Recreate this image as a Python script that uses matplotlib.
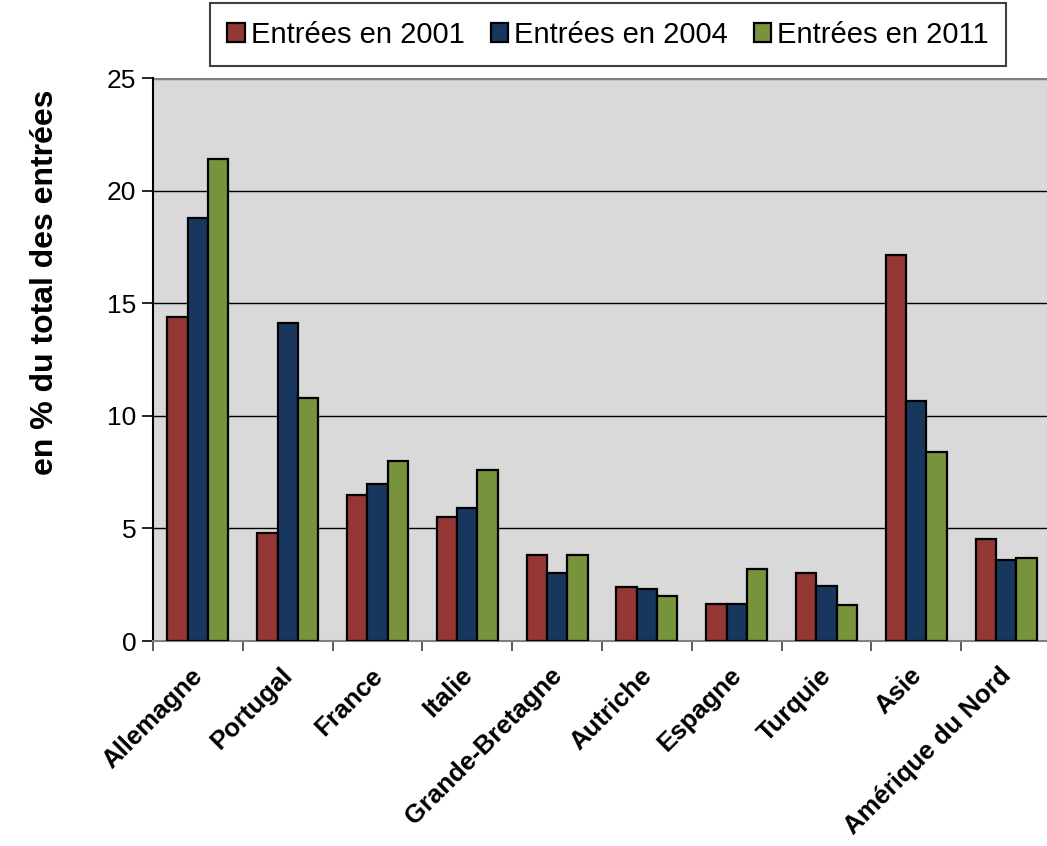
import numpy as np
import matplotlib
matplotlib.use("Agg")
import matplotlib.pyplot as plt

plt.rcParams['font.family'] = ['Liberation Sans', 'DejaVu Sans']

pays = ["Allemagne", "Portugal", "France", "Italie", "Grande-Bretagne",
        "Autriche", "Espagne", "Turquie", "Asie", "Amérique du Nord"]
entrees_2001 = [14.4, 4.8, 6.5, 5.5, 3.8, 2.4, 1.65, 3.0, 17.15, 4.55]
entrees_2004 = [18.8, 14.1, 6.95, 5.9, 3.0, 2.3, 1.65, 2.45, 10.65, 3.6]
entrees_2011 = [21.4, 10.8, 8.0, 7.6, 3.8, 2.0, 3.2, 1.6, 8.4, 3.7]
series_labels = ["Entrées en 2001", "Entrées en 2004", "Entrées en 2011"]
colors = ["#953735", "#17375E", "#77933C"]

fig = plt.figure(figsize=(10.47, 8.46), dpi=100)
ax = fig.add_axes([153 / 1047, 1 - 641 / 846, 898 / 1047, 563 / 846])
ax.set_facecolor("#D9D9D9")

x = np.arange(len(pays))
w = 0.226
for i, (vals, lab, col) in enumerate(zip([entrees_2001, entrees_2004, entrees_2011],
                                          series_labels, colors)):
    ax.bar(x + (i - 1) * w, vals, width=w, color=col, edgecolor="black",
           linewidth=1.6, label=lab, zorder=3)

ax.set_xlim(-0.5, len(pays) - 0.5)
ax.set_ylim(0, 25)
ax.set_yticks([0, 5, 10, 15, 20, 25])
ax.yaxis.grid(True, color="black", linewidth=1.0, zorder=1)
ax.set_axisbelow(True)

# category boundaries carry the x ticks
ax.set_xticks(np.arange(len(pays) + 1) - 0.5)
ax.set_xticklabels([])
ax.tick_params(axis="x", length=7, width=1.2, color="#404040", direction="out")
ax.tick_params(axis="y", length=8, width=1.2, labelsize=19, pad=4)

for xi, name in zip(x, pays):
    ax.text(xi - 0.08, -1.0, name, rotation=45, ha="right", va="top",
            rotation_mode="anchor", fontsize=18.5, fontweight="bold")

for side in ["top", "right"]:
    ax.spines[side].set_visible(False)
ax.axhline(25, color="#808080", linewidth=2.5, zorder=2)
ax.spines["left"].set_color("black")
ax.spines["left"].set_linewidth(1.5)
ax.spines["bottom"].set_color("#808080")
ax.spines["bottom"].set_linewidth(1.5)

fig.text(45 / 1047, 1 - 282 / 846, "en % du total des entrées", rotation=90,
         ha="center", va="center", fontsize=23, fontweight="bold")

leg = fig.legend(loc="center", bbox_to_anchor=(608 / 1047, 1 - 35 / 846), ncol=3,
                 fontsize=21, handlelength=0.6, handleheight=0.6, handletextpad=0.2,
                 columnspacing=0.9, fancybox=False, edgecolor="#404040",
                 framealpha=1, borderpad=0.6)
leg.get_frame().set_linewidth(1.5)

fig.savefig("out.png", dpi=100)
